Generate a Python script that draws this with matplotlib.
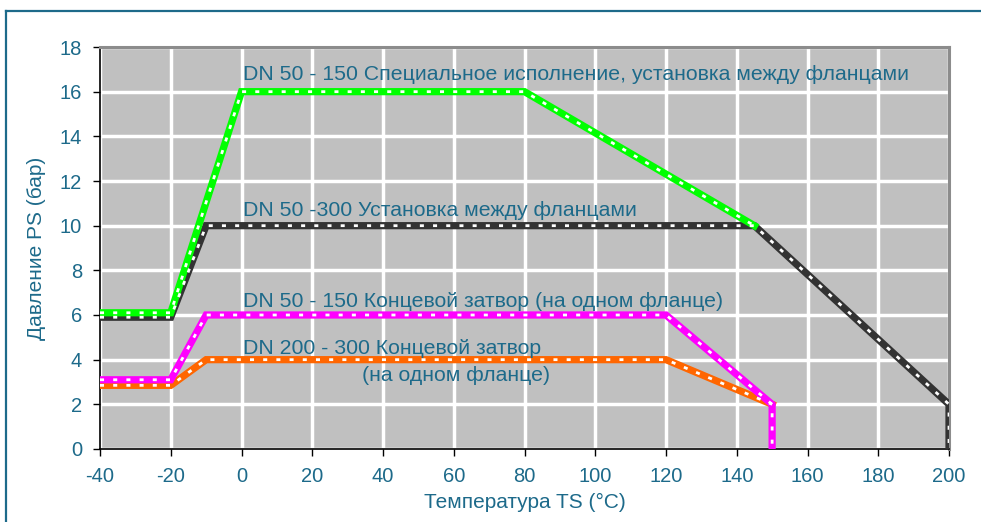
import matplotlib
matplotlib.use("Agg")
import matplotlib.pyplot as plt
from matplotlib.lines import Line2D

plt.rcParams["font.family"] = ["Liberation Sans", "DejaVu Sans"]
plt.rcParams["axes.unicode_minus"] = False

TEXT = "#1d6a8a"

# series: temperature (°C) vs pressure (bar)
black_x = [-40, -20, -10, 145, 200, 200]
black_y = [5.9, 5.9, 10, 10, 2, 0]
green_x = [-40, -20, 0, 80, 145]
green_y = [6.1, 6.1, 16, 16, 10]
orange_x = [-40, -20, -10, 120, 150]
orange_y = [2.85, 2.85, 4, 4, 2]
magenta_x = [-40, -20, -10, 120, 150, 150]
magenta_y = [3.1, 3.1, 6, 6, 2, 0]

x_ticks = list(range(-40, 201, 20))
y_ticks = list(range(0, 19, 2))

labels = [
    (0.5, 16.75, "DN 50 - 150 Специальное исполнение, установка между фланцами"),
    (0.5, 10.7, "DN 50 -300 Установка между фланцами"),
    (0.5, 6.6, "DN 50 - 150 Концевой затвор (на одном фланце)"),
    (0.5, 4.5, "DN 200 - 300 Концевой затвор"),
    (34.2, 3.3, "(на одном фланце)"),
]

fig = plt.figure(figsize=(9.81, 5.22), dpi=100)
ax = fig.add_axes([100 / 981, 73 / 522, 849 / 981, 402 / 522])
ax.set_facecolor("#c0c0c0")

# teal frame (top and left edges only visible)
fig.add_artist(Line2D([6 / 981, 1.0], [1 - 11 / 522, 1 - 11 / 522],
                      transform=fig.transFigure, color="#1d6a8a", lw=1.6))
fig.add_artist(Line2D([6 / 981, 6 / 981], [0.0, 1 - 11 / 522],
                      transform=fig.transFigure, color="#1d6a8a", lw=1.6))

series = [
    (black_x, black_y, "#333333"),
    (green_x, green_y, "#00ff00"),
    (orange_x, orange_y, "#ff6600"),
    (magenta_x, magenta_y, "#ff00ff"),
]
for xs, ys, c in series:
    ax.plot(xs, ys, color=c, lw=5.2, solid_joinstyle="miter", zorder=3)
    ax.plot(xs, ys, color="white", lw=2.0, dashes=(1.45, 3.3), zorder=4)

ax.set_xlim(-40, 200)
ax.set_ylim(0, 18)
ax.set_xticks(x_ticks)
ax.set_yticks(y_ticks)
ax.grid(True, color="white", lw=2.5, zorder=1)
ax.set_axisbelow(True)

for side in ("left", "bottom"):
    ax.spines[side].set_color("black")
    ax.spines[side].set_linewidth(1.2)
for side in ("top", "right"):
    ax.spines[side].set_color("#8c8c8c")
    ax.spines[side].set_linewidth(2.2)

ax.tick_params(direction="out", length=5, width=1, color="black",
               labelsize=14.5, labelcolor=TEXT, pad=8)

ax.set_xlabel("Температура TS (°C)", fontsize=15, color=TEXT, labelpad=5)
ax.set_ylabel("Давление PS (бар)", fontsize=15, color=TEXT, labelpad=10)

for x, y, t in labels:
    ax.text(x, y, t, fontsize=15.3, color=TEXT, va="center", ha="left", zorder=5)

fig.savefig("out.png", dpi=100)
